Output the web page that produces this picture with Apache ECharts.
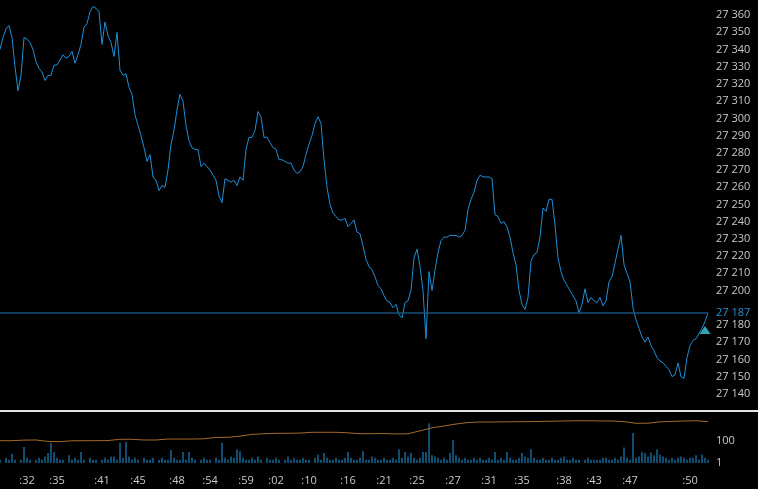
<!DOCTYPE html>
<html>
<head>
<meta charset="utf-8">
<script src="https://cdn.jsdelivr.net/npm/echarts@6/dist/echarts.min.js"></script>
<style>
html,body{margin:0;padding:0;background:#000;}
#c{width:758px;height:489px;}
</style>
</head>
<body>
<div id="c"></div>
<script>
// ---- price ticks (one value per tick step) ----
const prices = [
27340,27347,27352,27354,27347,27330,27316,27325,27347,27346,27344,27340,27333,27329,27327,27322,27325,27325,27331,27331,
27334,27337,27335,27336,27339,27332,27337,27343,27353,27355,27362,27365,27364,27362,27343,27356,27348,27344,27336,27350,
27328,27325,
27326,27318,27314,27302,27296,27290,27283,27275,27279,27266,27264,27258,27261,27260,27270,27285,27293,27305,27314,27310,
27296,27287,27283,27282,27282,27272,27274,27272,27270,27267,27264,27255,27251,27265,27264,27263,27264,27261,27266,
27264,27282,27289,27289,27293,27304,27301,27289,27289,27286,27283,27282,27276,27276,27275,27274,27274,27270,27268,27269,
27272,27279,27285,27290,27297,27301,27297,27276,27260,27250,27245,27243,27241,27241,27242,27237,27239,27241,27234,27233,
27226,27218,27214,27212,27208,27203,27201,27197,27194,27193,27190,27192,27186,27184,27193,27194,27200,27219,27224,27214,
27200,27172,27211,27200,27212,27222,27229,27231,27231,27232,27232,27232,27231,27232,27235,27247,27253,27257,27264,27267,
27266,
27266,27266,27265,27244,27243,27239,27240,27237,27231,27222,27215,27200,27192,27189,27196,27217,27221,27222,27231,27248,
27246,27253,27253,27238,27219,27211,27206,27203,27200,27197,27194,27187,27192,27201,27193,27196,27194,27193,27196,
27191,27194,27205,27208,27216,27224,27232,27215,27210,27205,27190,27183,27178,27173,27170,27173,27168,27165,27161,27159,
27158,27156,27154,27150,27151,27158,27150,27149,27161,27168,27171,27172,27175,27178,27182,27187
];
// ---- tick volume (log scale) ----
const volumes = [
2,1,3,2,7,2,1,2,28,3,2,1,2,3,2,4,8,65,10,3,
2,2,1,5,2,3,2,10,2,1,3,2,2,1,2,3,2,4,4,2,
65,3,80,4,2,3,2,1,3,2,2,3,1,2,3,2,2,15,3,2,
2,10,2,10,3,2,1,2,3,2,2,1,3,2,70,3,2,4,3,18,
12,3,2,2,3,2,4,2,1,3,2,2,3,2,1,2,4,2,3,2,
2,3,2,2,1,3,6,2,8,3,2,2,3,2,2,3,10,3,2,2,
3,12,2,2,4,3,2,2,3,2,2,3,2,18,3,10,4,8,3,2,
3,10,10,4000,5,4,3,2,3,2,8,120,5,3,2,3,2,2,3,2,
3,2,2,3,2,10,2,3,2,10,3,2,2,3,8,4,3,18,3,2,
2,3,2,2,3,2,2,3,4,2,2,3,2,2,1,2,3,2,2,2,
2,3,3,2,2,3,2,4,25,3,2,540,3,4,10,8,4,9,5,18,
6,4,3,2,3,2,3,4,3,2,3,3,5,2,6,3,2
];
// ---- slow indicator in the volume pane (coarser steps) ----
const indicator = [
50.7,50.7,52,52.3,49,48.5,50.5,50.7,50.7,51,53.9,53.9,52.3,52.3,54.5,54.5,54.5,55,58,58.4,
61,65,66.5,67.5,67.5,68,69.8,69.8,69.8,68.5,66.6,66.6,67,66,66.5,73,80,84,88.6,92,
93.2,93.2,93.5,93.9,93.9,94.5,95,95.5,96,96,95.5,95.5,94,90.2,90.5,93.5,94.5,95.5,96,94
];
// ---- time labels ----
const tickIdx = [9,19,34,46,59,70,82,92,103,116,128,139,151,163,174,188,198,210,230];
const tickText = [':32',':35',':41',':45',':48',':54',':59',':02',':10',':16',':21',':25',':27',':31',':35',':38',':43',':47',':50'];
const lastPrice = 27187;
const markerIndex = 235;
const markerPrice = 27177;
const priceMin = 27130;
const priceMax = 27368.8;

const cats = prices.map((_, i) => i);
const indCats = indicator.map((_, i) => i);
const fmt = v => String(v).replace(/\B(?=(\d{3})+(?!\d))/g, ' ');
const FONT = 'Open Sans';

const chart = echarts.init(document.getElementById('c'), null, {renderer: 'canvas'});
chart.setOption({
  backgroundColor: '#000',
  animation: false,
  grid: [
    {left: 0, right: 50, top: 0, height: 411},
    {left: 0, right: 50, top: 419, height: 44}
  ],
  xAxis: [
    {type: 'category', gridIndex: 0, data: cats, boundaryGap: false, show: false},
    {type: 'category', gridIndex: 1, data: cats, boundaryGap: false,
     axisLine: {show: false}, axisTick: {show: false}, splitLine: {show: false},
     axisLabel: {
       color: '#c8c8c8', fontFamily: FONT, fontSize: 11, margin: 12,
       interval: (i) => tickIdx.indexOf(i) >= 0,
       formatter: (v, i) => { const k = tickIdx.indexOf(i); return k >= 0 ? tickText[k] : ''; }
     }},
    {type: 'category', gridIndex: 1, data: indCats, boundaryGap: false, show: false}
  ],
  yAxis: [
    {type: 'value', gridIndex: 0, position: 'right', min: priceMin, max: priceMax, interval: 10,
     axisLine: {show: false}, axisTick: {show: false}, splitLine: {show: false},
     axisLabel: {color: '#c8c8c8', fontFamily: FONT, fontSize: 11, margin: 8,
       showMinLabel: false, showMaxLabel: false,
       formatter: v => (Math.abs(v - lastPrice) < 5 || v % 10 !== 0) ? '' : fmt(v)}},
    {type: 'log', gridIndex: 1, position: 'right', min: 1, max: 10000, logBase: 10,
     axisLine: {show: false}, axisTick: {show: false}, splitLine: {show: false},
     axisLabel: {color: '#c8c8c8', fontFamily: FONT, fontSize: 11, margin: 8,
       formatter: v => (v === 1 || v === 100) ? String(v) : ''}},
    {type: 'value', gridIndex: 1, min: 0, max: 100, show: false}
  ],
  graphic: [
    {type: 'line', shape: {x1: 0, y1: 411, x2: 758, y2: 411}, style: {stroke: '#e4e4e4', lineWidth: 2}, z: 100}
  ],
  series: [
    {type: 'line', xAxisIndex: 0, yAxisIndex: 0, data: prices, showSymbol: false,
     lineStyle: {color: '#1f8fd6', width: 1}, itemStyle: {color: '#1f8fd6'},
     markLine: {silent: true, symbol: 'none',
       lineStyle: {color: '#1a5178', width: 1.5, type: 'solid'},
       label: {show: true, position: 'end', distance: 8, color: '#2b8fd3', fontFamily: FONT, fontSize: 11,
         formatter: () => fmt(lastPrice)},
       data: [{yAxis: lastPrice}]}},
    {type: 'scatter', xAxisIndex: 0, yAxisIndex: 0, data: [[markerIndex, markerPrice]],
     symbol: 'triangle', symbolSize: [11, 8], itemStyle: {color: '#3dcde2'}, z: 5},
    {type: 'bar', xAxisIndex: 1, yAxisIndex: 1, data: volumes, barWidth: 1,
     itemStyle: {color: '#1e9be0'}},
    {type: 'line', xAxisIndex: 2, yAxisIndex: 2, data: indicator, showSymbol: false,
     lineStyle: {color: '#a5692c', width: 1}}
  ]
});
</script>
</body>
</html>
